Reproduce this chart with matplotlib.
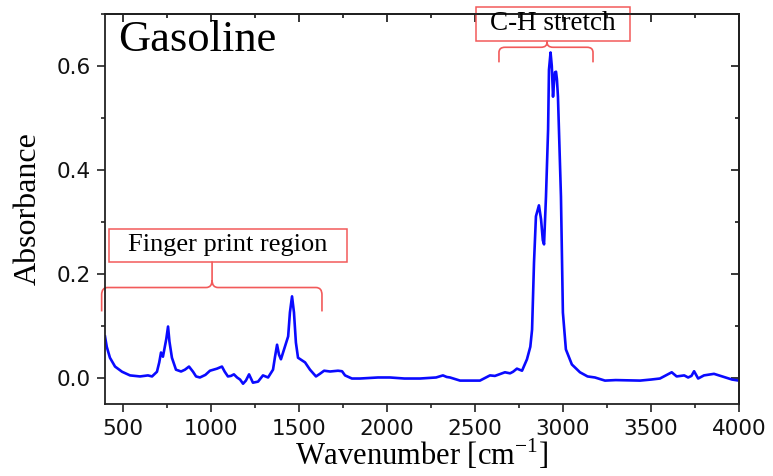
import numpy as np
import matplotlib.pyplot as plt
from matplotlib.patches import Rectangle, PathPatch
from matplotlib.path import Path
from matplotlib.ticker import MultipleLocator

# FTIR spectrum of gasoline
wavenumber = [400, 410, 428, 457, 497, 542, 599, 644, 667, 695, 708, 718, 729, 748, 758,
              766, 780, 803, 832, 854, 877, 900, 917, 939, 970, 996, 1036, 1064, 1080,
              1098, 1115, 1132, 1150, 1167, 1184, 1200, 1218, 1230, 1240, 1269, 1297,
              1326, 1354, 1365, 1377, 1388, 1399, 1422, 1440, 1450, 1462, 1473, 1484,
              1496, 1536, 1564, 1598, 1620, 1644, 1678, 1723, 1746, 1763, 1802, 1848,
              1900, 1950, 2018, 2100, 2189, 2280, 2319, 2340, 2359, 2416, 2470, 2529,
              2586, 2614, 2671, 2700, 2717, 2739, 2768, 2796, 2815, 2825, 2836, 2847,
              2864, 2876, 2886, 2893, 2904, 2916, 2921, 2930, 2937, 2944, 2950, 2955,
              2961, 2966, 2972, 2980, 2989, 3000, 3017, 3051, 3097, 3140, 3182, 3239,
              3300, 3438, 3500, 3551, 3595, 3618, 3646, 3667, 3689, 3711, 3730, 3745,
              3768, 3801, 3858, 3904, 3961, 4000]
absorbance = [0.080, 0.060, 0.039, 0.022, 0.012, 0.005, 0.003, 0.005, 0.003, 0.012, 0.030,
              0.049, 0.041, 0.075, 0.099, 0.070, 0.039, 0.016, 0.0125, 0.016, 0.022, 0.012,
              0.003, 0.001, 0.006, 0.014, 0.018, 0.022, 0.012, 0.003, 0.004, 0.007, 0.001,
              -0.003, -0.011, -0.005, 0.007, -0.002, -0.009, -0.007, 0.005, 0.001, 0.016,
              0.040, 0.064, 0.045, 0.036, 0.061, 0.080, 0.126, 0.157, 0.126, 0.068, 0.039,
              0.030, 0.016, 0.003, 0.008, 0.014, 0.0125, 0.014, 0.013, 0.005, -0.001,
              -0.001, 0.000, 0.001, 0.001, -0.001, -0.001, 0.001, 0.005, 0.002, 0.001,
              -0.005, -0.005, -0.005, 0.005, 0.004, 0.011, 0.009, 0.012, 0.018, 0.014,
              0.036, 0.060, 0.093, 0.222, 0.311, 0.332, 0.305, 0.265, 0.257, 0.349, 0.478,
              0.593, 0.626, 0.600, 0.541, 0.570, 0.588, 0.589, 0.575, 0.541, 0.450, 0.349,
              0.126, 0.055, 0.026, 0.011, 0.003, 0.001, -0.005, -0.004, -0.005, -0.003,
              -0.001, 0.007, 0.011, 0.003, 0.004, 0.005, 0.001, 0.004, 0.013, -0.001,
              0.005, 0.008, 0.003, -0.003, -0.005]

x_ticks = [500, 1000, 1500, 2000, 2500, 3000, 3500, 4000]
y_ticks = [0.0, 0.2, 0.4, 0.6]

red = '#f25a5a'

plt.rcParams['mathtext.fontset'] = 'custom'
plt.rcParams['mathtext.rm'] = 'Liberation Serif'

fig = plt.figure(figsize=(7.73, 4.76), dpi=100)
ax = fig.add_axes([105/773, 1-404/476, 634/773, 390/476])

ax.plot(wavenumber, absorbance, color='#0a0aff', lw=1.9)

ax.set_xlim(400, 4000)
ax.set_ylim(-0.05, 0.70)
ax.set_xticks(x_ticks)
ax.set_yticks(y_ticks)
ax.set_yticklabels([f'{v:.1f}' for v in y_ticks])
ax.xaxis.set_minor_locator(MultipleLocator(250))
ax.yaxis.set_minor_locator(MultipleLocator(0.1))
ax.tick_params(which='both', direction='out', width=1.1, labelsize=15.5, colors='#111111')
ax.tick_params(which='major', length=5.5, pad=5)
ax.tick_params(which='minor', length=3)
for lab in ax.get_xticklabels() + ax.get_yticklabels():
    lab.set_fontfamily('DejaVu Sans')
for s in ax.spines.values():
    s.set_linewidth(1.3)
    s.set_color('#222222')

# inward ticks on top and right, no labels
top = ax.secondary_xaxis('top')
top.set_xticks(x_ticks)
top.xaxis.set_minor_locator(MultipleLocator(250))
top.tick_params(which='both', direction='in', labeltop=False, width=1.1)
top.tick_params(which='major', length=5.5)
top.tick_params(which='minor', length=3)
right = ax.secondary_yaxis('right')
right.set_yticks(y_ticks)
right.yaxis.set_minor_locator(MultipleLocator(0.1))
right.tick_params(which='both', direction='in', labelright=False, width=1.1)
right.tick_params(which='major', length=5.5)
right.tick_params(which='minor', length=3)
for s in list(top.spines.values()) + list(right.spines.values()):
    s.set_linewidth(1.3)

ax.set_xlabel('Wavenumber [cm$^{-1}$]', fontsize=22, family='Liberation Serif', labelpad=-1)
ax.set_ylabel('Absorbance', fontsize=23, family='Liberation Serif', labelpad=10)

ax.text(0.02, 0.905, 'Gasoline', transform=ax.transAxes, fontsize=32,
        family='Liberation Serif', va='baseline', ha='left')


def brace(x0, x1, xm, y, y_end, y_tip, rx, ry):
    verts = [(x0, y_end), (x0, y - ry), (x0, y), (x0 + rx, y), (xm - rx, y),
             (xm, y), (xm, y + ry), (xm, y_tip),
             (xm, y + ry), (xm, y), (xm + rx, y), (x1 - rx, y),
             (x1, y), (x1, y - ry), (x1, y_end)]
    codes = [Path.MOVETO, Path.LINETO, Path.CURVE3, Path.CURVE3, Path.LINETO,
             Path.CURVE3, Path.CURVE3, Path.LINETO,
             Path.MOVETO, Path.CURVE3, Path.CURVE3, Path.LINETO,
             Path.CURVE3, Path.CURVE3, Path.LINETO]
    ax.add_patch(PathPatch(Path(verts, codes), fill=False, edgecolor=red, lw=1.2,
                           clip_on=False))


# finger print region
brace(381, 1632, 1008, 0.174, 0.128, 0.224, 34, 0.014)
ax.add_patch(Rectangle((423, 0.224), 1351, 0.062, fill=False, edgecolor=red, lw=1.1,
                       clip_on=False))
ax.text(1098, 0.255, 'Finger print region', fontsize=19, family='Liberation Serif',
        ha='center', va='center')

# C-H stretch
brace(2637, 3171, 2910, 0.636, 0.607, 0.649, 34, 0.010)
ax.add_patch(Rectangle((2507, 0.649), 874, 0.0635, fill=False, edgecolor=red, lw=1.1,
                       clip_on=False))
ax.text(2944, 0.681, 'C-H stretch', fontsize=19.5, family='Liberation Serif',
        ha='center', va='center')

fig.savefig('out.png', dpi=100)
